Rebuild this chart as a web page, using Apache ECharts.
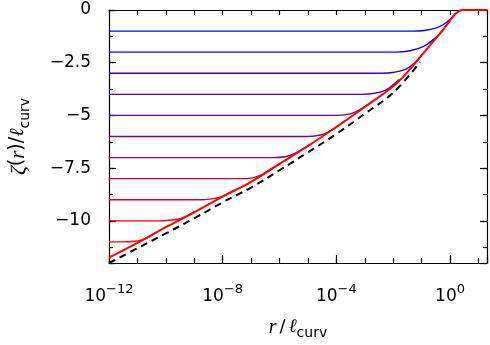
<!DOCTYPE html>
<html>
<head>
<meta charset="utf-8">
<script src="https://cdn.jsdelivr.net/npm/echarts@6/dist/echarts.min.js"></script>
<style>
html, body { margin: 0; padding: 0; background: #fff; }
#chart { width: 490px; height: 345px; }
</style>
</head>
<body>
<div id="chart"></div>
<script>
// x values are log10(r / l_curv), y values are zeta(r) / l_curv
var levels = [-1, -2, -3, -4, -5, -6, -7, -8, -9, -10, -11];

var branch1 = [[-12, -1], [-1.3, -1], [-0.9, -0.97], [-0.5, -0.86], [-0.25, -0.7], [0, -0.45], [0.2, -0.16], [0.35, -0.03], [0.45, 0], [1.3, 0]];
var branch2 = [[-12, -2], [-1.9, -2], [-1.4, -1.93], [-0.95, -1.74], [-0.5, -1.3], [-0.25, -0.93], [0, -0.5]];
var branch3 = [[-12, -3], [-2.4, -3], [-1.95, -2.95], [-1.55, -2.8], [-1.25, -2.52], [-1.0, -2.13]];
var branch4 = [[-12, -4], [-3.1, -4], [-2.65, -3.95], [-2.3, -3.82], [-2.05, -3.6], [-1.8, -3.3]];
var branch5 = [[-12, -5], [-4.05, -5], [-3.6, -4.95], [-3.3, -4.82], [-3.0, -4.58], [-2.7, -4.29]];
var branch6 = [[-12, -6], [-5.05, -6], [-4.6, -5.94], [-4.3, -5.8], [-4.0, -5.54], [-3.7, -5.25]];
var branch7 = [[-12, -7], [-6.2, -7], [-5.8, -6.96], [-5.5, -6.83], [-5.2, -6.6], [-4.9, -6.36]];
var branch8 = [[-12, -8], [-7.35, -8], [-6.95, -7.96], [-6.7, -7.86], [-6.45, -7.66], [-6.2, -7.45]];
var branch9 = [[-12, -9], [-8.8, -9], [-8.4, -8.96], [-8.1, -8.88], [-7.85, -8.73], [-7.6, -8.56]];
var branch10 = [[-12, -10], [-10.2, -10], [-9.8, -9.96], [-9.5, -9.9], [-9.25, -9.76], [-9.0, -9.58]];
var branch11 = [[-12, -11], [-11.5, -11], [-11.1, -10.97], [-10.85, -10.9], [-10.6, -10.76], [-10.35, -10.55]];
var branches = [branch1, branch2, branch3, branch4, branch5, branch6, branch7, branch8, branch9, branch10, branch11];

var envelope = [[-12, -11.75], [-11, -11.05], [-10, -10.3], [-9, -9.6], [-8, -8.85], [-7, -8.15], [-6, -7.3], [-5, -6.45], [-4, -5.55], [-3, -4.6], [-2, -3.62], [-1.5, -2.95], [-1, -2.15], [-0.5, -1.35], [-0.25, -0.95], [0, -0.5], [0.2, -0.17], [0.35, -0.03], [0.45, 0], [1.3, 0]];

var asymptote = [[-12, -12], [-11, -11.3], [-10, -10.6], [-9, -9.88], [-8, -9.12], [-7, -8.42], [-6, -7.6], [-5, -6.75], [-4, -5.88], [-3, -4.92], [-2, -3.92], [-1.05, -2.47]];

var xLabelExps = [-12, -8, -4, 0];
var yLabelValues = [0, -2.5, -5, -7.5, -10];

var myChart = echarts.init(document.getElementById('chart'));

// y axis is drawn inverted on -zeta so that ticks count from 0
function toDepth(pts) {
    return pts.map(function (p) { return [p[0], -p[1]]; });
}

function levelColor(i) {
    var t = i / (levels.length - 1);
    return 'rgb(' + Math.round(255 * t) + ',0,' + Math.round(255 * (1 - t)) + ')';
}

var axisBlack = { color: '#000', width: 1.2 };

var series = [];
branches.forEach(function (b, i) {
    series.push({
        name: 'level ' + levels[i],
        type: 'line',
        data: toDepth(b),
        showSymbol: false,
        smooth: 0.4,
        lineStyle: { color: levelColor(i), width: 1.4 },
        z: 2
    });
});
series.push({
    name: 'asymptote',
    type: 'line',
    data: toDepth(asymptote),
    showSymbol: false,
    smooth: 0.4,
    lineStyle: { color: '#000', width: 2, type: [7, 5] },
    z: 3
});
series.push({
    name: 'envelope',
    type: 'line',
    data: toDepth(envelope),
    showSymbol: false,
    smooth: 0.4,
    lineStyle: { color: '#ff0000', width: 2 },
    z: 4
});

var option = {
    animation: false,
    backgroundColor: '#fff',
    grid: { left: 108, right: 3, top: 10, bottom: 82 },
    xAxis: [
        {
            type: 'value', min: -12, max: 1.3, interval: 4, position: 'bottom',
            axisLine: { onZero: false, lineStyle: axisBlack },
            axisTick: { inside: true, length: 8, lineStyle: axisBlack },
            splitLine: { show: false },
            axisLabel: {
                margin: 20,
                formatter: function (v) {
                    if (xLabelExps.indexOf(v) < 0) return '';
                    return '{b|10}{s|' + (v < 0 ? '\u2212' : '') + Math.abs(v) + '}';
                },
                rich: {
                    b: { fontFamily: 'DejaVu Sans', fontSize: 17, color: '#000', lineHeight: 22, verticalAlign: 'bottom' },
                    s: { fontFamily: 'DejaVu Sans', fontSize: 13, color: '#000', lineHeight: 12, verticalAlign: 'top' }
                }
            },
            name: '{i|r}{n|/}{l|\u2113}{s|curv}',
            nameLocation: 'middle',
            nameGap: 55,
            nameTextStyle: {
                rich: {
                    i: { fontFamily: 'Liberation Serif', fontStyle: 'italic', fontSize: 20, color: '#000', lineHeight: 22, verticalAlign: 'top', padding: [0, 3, 0, 0] },
                    n: { fontFamily: 'DejaVu Sans', fontSize: 18, color: '#000', lineHeight: 22, verticalAlign: 'top', padding: [0, 3, 0, 0] },
                    l: { fontFamily: 'DejaVu Serif', fontStyle: 'italic', fontSize: 19, color: '#000', lineHeight: 22, verticalAlign: 'top' },
                    s: { fontFamily: 'DejaVu Sans', fontSize: 14, color: '#000', lineHeight: 20, verticalAlign: 'bottom' }
                }
            }
        },
        {
            type: 'value', min: -12, max: 1.3, interval: 1, position: 'bottom',
            axisLine: { show: false, onZero: false },
            axisTick: { inside: true, length: 5, lineStyle: axisBlack },
            axisLabel: { show: false },
            splitLine: { show: false }
        },
        {
            type: 'value', min: -12, max: 1.3, interval: 1, position: 'top',
            axisLine: { onZero: false, lineStyle: axisBlack },
            axisTick: { inside: true, length: 5, lineStyle: axisBlack },
            axisLabel: { show: false },
            splitLine: { show: false }
        }
    ],
    yAxis: [
        {
            type: 'value', inverse: true, min: 0, max: 12, interval: 2.5, position: 'left',
            axisLine: { onZero: false, lineStyle: axisBlack },
            axisTick: { inside: true, length: 7, lineStyle: axisBlack },
            splitLine: { show: false },
            axisLabel: {
                margin: 18,
                fontFamily: 'DejaVu Sans',
                fontSize: 17,
                color: '#000',
                formatter: function (v) {
                    if (yLabelValues.indexOf(-v) < 0) return '';
                    return v === 0 ? '0' : '\u2212' + v;
                }
            },
            name: '{z|\u03b6}{n|(}{i|r}{n|)/}{l|\u2113}{s|curv}',
            nameLocation: 'middle',
            nameRotate: 90,
            nameGap: 77,
            nameTextStyle: {
                rich: {
                    z: { fontFamily: 'Liberation Serif', fontStyle: 'italic', fontSize: 22, color: '#000', lineHeight: 24, verticalAlign: 'top' },
                    i: { fontFamily: 'Liberation Serif', fontStyle: 'italic', fontSize: 21, color: '#000', lineHeight: 24, verticalAlign: 'top' },
                    n: { fontFamily: 'DejaVu Sans', fontSize: 19, color: '#000', lineHeight: 24, verticalAlign: 'top' },
                    l: { fontFamily: 'DejaVu Serif', fontStyle: 'italic', fontSize: 20, color: '#000', lineHeight: 24, verticalAlign: 'top' },
                    s: { fontFamily: 'DejaVu Sans', fontSize: 14, color: '#000', lineHeight: 22, verticalAlign: 'bottom' }
                }
            }
        },
        {
            type: 'value', inverse: true, min: 0, max: 12, interval: 1.25, position: 'left',
            axisLine: { show: false, onZero: false },
            axisTick: { inside: true, length: 4, lineStyle: axisBlack },
            axisLabel: { show: false },
            splitLine: { show: false }
        },
        {
            type: 'value', inverse: true, min: 0, max: 12, interval: 2.5, position: 'right',
            axisLine: { onZero: false, lineStyle: axisBlack },
            axisTick: { inside: true, length: 7, lineStyle: axisBlack },
            axisLabel: { show: false },
            splitLine: { show: false }
        },
        {
            type: 'value', inverse: true, min: 0, max: 12, interval: 1.25, position: 'right',
            axisLine: { show: false, onZero: false },
            axisTick: { inside: true, length: 4, lineStyle: axisBlack },
            axisLabel: { show: false },
            splitLine: { show: false }
        }
    ],
    series: series
};

myChart.setOption(option);
</script>
</body>
</html>
